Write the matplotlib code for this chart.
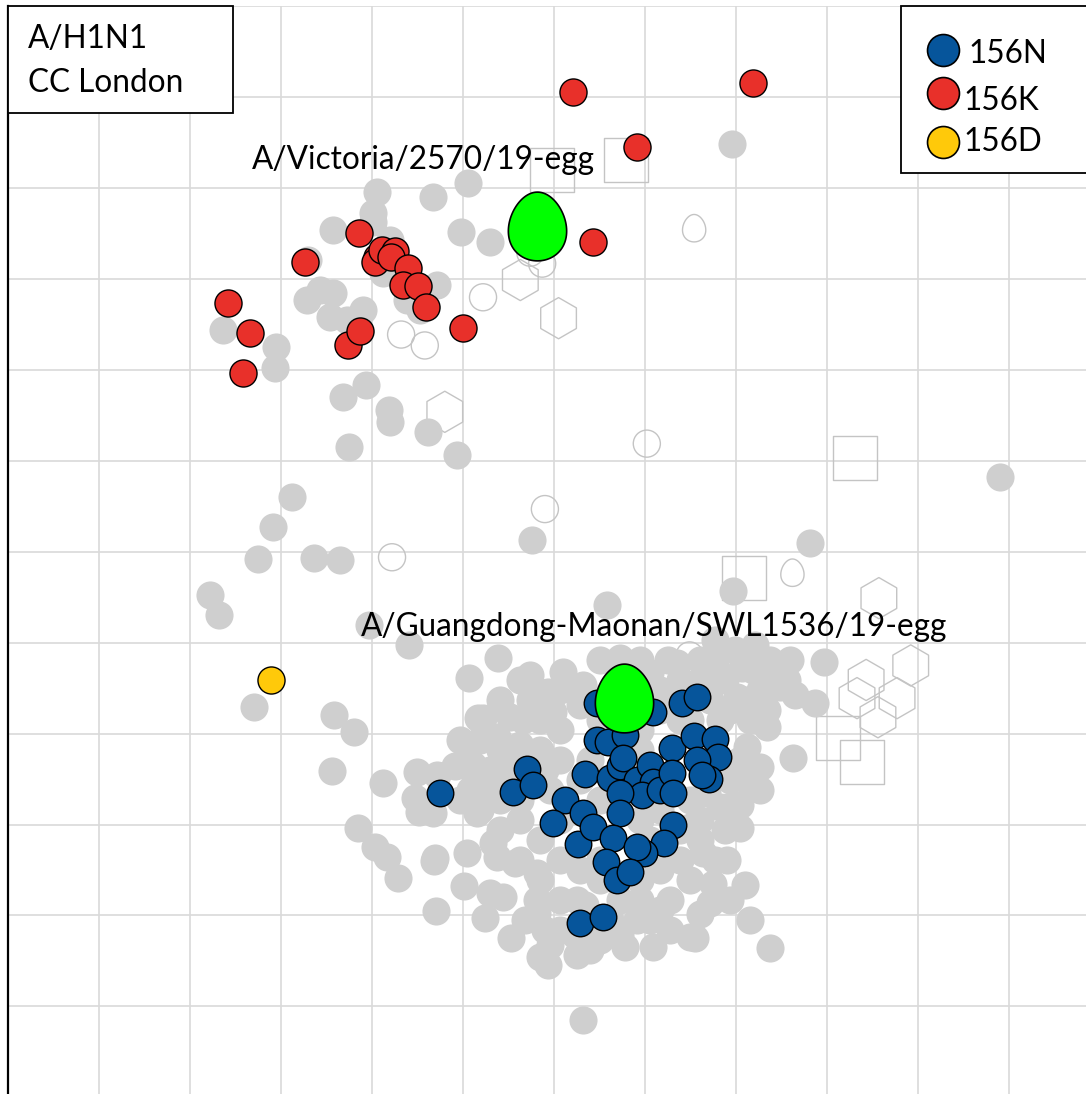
import numpy as np
import matplotlib.pyplot as plt
from matplotlib.path import Path
from matplotlib.patches import Rectangle

# Antigenic map positions in grid units (x to the right, y downwards)
grey_x = [4.05, 4.01, 4.01, 4.67, 5.05, 4.98, 5.30, 3.57, 3.30, 4.12, 4.71, 4.38, 4.53, 3.29, 3.43, 3.57,
          3.54, 3.73, 3.90, 2.36, 2.95, 2.93, 3.68, 3.93, 4.19, 4.20, 4.62, 3.75, 4.93, 7.96, 4.31, 4.20,
          3.12, 2.91, 2.75, 3.36, 3.65, 2.22, 2.32, 3.97, 4.41, 2.70, 3.58, 3.80, 5.07, 5.16, 5.76, 6.58,
          7.97, 8.81, 10.90, 8.97, 8.63, 8.87,
          3.56, 4.12, 4.49, 4.47, 4.52, 4.71, 4.91, 5.11, 5.22, 5.52, 5.66, 5.37, 3.85, 4.03, 4.16, 4.29,
          4.68, 5.04, 5.01, 4.70, 5.15, 5.33, 5.37, 5.57, 5.30, 5.44, 5.24, 5.53, 5.81, 5.85, 5.93, 6.25,
          6.32, 5.81, 6.25, 5.81,
          5.38, 6.10, 5.93, 6.32, 6.73, 7.05, 7.35, 7.77, 8.07, 8.37, 8.56, 5.99, 4.67, 5.00, 5.19, 4.69,
          6.78, 6.91, 7.16, 7.09, 7.55, 7.71, 7.93, 8.15, 8.37, 8.04, 7.90,
          7.25, 8.19, 8.59, 7.77, 8.48, 8.34, 8.01, 8.34, 8.12, 8.26, 8.12, 7.90, 7.75, 7.49, 7.64, 7.49,
          7.82, 7.68,
          5.74, 6.07, 5.85, 5.41, 5.19, 5.63, 6.07, 6.51, 6.95, 7.16, 7.60, 7.93, 8.15, 7.82, 8.04, 7.93,
          7.49, 7.60, 7.16, 6.95, 6.51, 6.29, 5.96, 5.41, 5.63, 5.85, 6.07, 5.85, 6.07, 6.51, 6.73, 6.95,
          7.16, 7.38, 7.49, 7.27, 6.51, 6.07, 5.63, 5.41, 4.97, 5.19, 5.63, 6.73, 7.38, 7.71, 7.49, 6.07,
          6.51, 6.95, 6.29, 6.95, 7.60, 6.07, 6.29, 7.05, 6.62, 6.40, 5.68, 5.90, 8.10,
          7.99, 8.21, 8.43, 8.65, 8.26, 8.10, 7.88, 7.60, 7.38, 7.16, 5.08, 5.30, 5.46, 5.90, 5.85, 5.52,
          5.08, 7.88, 7.77, 8.04, 8.26, 7.82, 6.34, 6.73, 6.95, 7.27, 7.60, 5.96, 6.23, 6.51, 7.05, 7.38,
          6.40, 6.62, 7.05, 5.41, 5.63, 4.97, 5.74]
grey_y = [2.04, 2.27, 2.37, 2.10, 1.94, 2.48, 2.59, 2.46, 2.79, 2.93, 3.06, 3.23, 3.34, 3.23, 3.12, 3.15,
          3.42, 3.45, 3.34, 3.56, 3.75, 3.98, 4.30, 4.17, 4.44, 4.57, 4.68, 4.85, 4.93, 1.51, 2.95, 2.57,
          5.40, 5.73, 6.08, 6.07, 6.09, 6.47, 6.70, 6.81, 7.02, 7.71, 7.80, 7.98, 7.39, 7.83, 5.87, 6.58,
          6.43, 5.90, 5.18, 7.21, 8.27, 7.66,
          8.41, 8.54, 8.42, 8.71, 8.86, 8.45, 8.36, 8.34, 7.83, 7.82, 7.85, 8.04, 9.04, 9.25, 9.36, 9.59,
          9.40, 9.31, 9.68, 9.95, 8.87, 9.20, 9.36, 9.42, 9.75, 9.80, 10.03, 10.25, 9.97, 10.46, 10.55, 10.44,
          11.15, 9.83, 9.83, 9.53,
          7.17, 7.32, 7.54, 7.46, 7.17, 7.33, 7.22, 7.22, 7.28, 7.19, 7.41, 7.76, 8.87, 8.35, 8.84, 9.37,
          10.35, 10.05, 9.94, 10.35, 10.25, 9.86, 9.83, 10.05, 10.36, 9.04, 9.39,
          7.19, 7.30, 7.19, 6.97, 7.49, 7.74, 7.60, 7.93, 8.15, 8.37, 8.51, 8.81, 9.65, 10.24, 9.31, 9.03,
          8.81, 8.65,
          7.63, 7.96, 8.18, 8.18, 8.07, 8.13, 8.29, 7.85, 7.96, 7.52, 7.41, 7.74, 7.85, 7.85, 8.29, 8.51,
          8.73, 8.95, 8.84, 8.95, 8.73, 8.51, 8.62, 8.73, 8.95, 9.17, 9.39, 9.61, 9.83, 9.61, 9.83, 9.61,
          9.50, 9.39, 9.61, 9.83, 10.27, 10.16, 9.39, 9.06, 8.73, 8.62, 8.73, 7.41, 7.85, 7.63, 7.85, 7.52,
          7.19, 7.19, 7.69, 8.18, 9.17, 8.95, 9.50, 10.05, 10.05, 10.38, 10.05, 10.16, 9.67,
          7.08, 7.03, 7.36, 7.58, 7.52, 7.63, 7.41, 7.19, 7.41, 7.74, 8.13, 8.40, 8.51, 8.40, 7.85, 8.29,
          8.62, 9.06, 9.39, 8.79, 8.62, 8.40, 9.89, 10.22, 9.83, 10.16, 9.99, 10.33, 10.22, 9.39, 9.17, 9.06,
          8.29, 7.63, 7.63, 7.63, 7.41, 8.07, 7.35]

# 156N test viruses
n156_x = [6.47, 7.09, 7.41, 7.57, 6.47, 6.59, 6.78, 7.30, 7.54, 7.77, 7.80, 7.57, 7.70, 7.63, 4.75, 5.70,
          5.55, 5.77, 6.34, 6.62, 6.73, 6.76, 6.91, 7.05, 7.09, 6.97, 7.16, 7.30, 7.31, 6.73, 6.73, 6.12,
          5.99, 6.32, 6.26, 6.43, 6.65, 7.31, 7.21, 6.99, 6.91, 6.57, 6.69, 6.84, 6.29, 6.54]
n156_y = [7.66, 7.76, 7.66, 7.60, 8.07, 8.09, 8.01, 8.16, 8.03, 8.06, 8.26, 8.29, 8.50, 8.46, 8.65, 8.39,
          8.64, 8.56, 8.44, 8.49, 8.36, 8.27, 8.51, 8.34, 8.53, 8.67, 8.62, 8.43, 8.65, 8.65, 8.87, 8.73,
          8.98, 8.87, 9.21, 9.03, 9.15, 9.00, 9.20, 9.31, 9.25, 9.41, 9.61, 9.52, 10.08, 10.02]

# 156K test viruses
k156_x = [6.21, 8.19, 6.91, 6.43, 3.86, 3.26, 4.05, 4.03, 4.11, 4.25, 4.21, 4.40, 4.34, 4.51, 4.59, 5.00,
          2.42, 2.66, 2.58, 3.74, 3.87]
k156_y = [0.94, 0.84, 1.55, 2.59, 2.49, 2.81, 2.76, 2.81, 2.68, 2.69, 2.76, 2.88, 3.06, 3.08, 3.31, 3.54,
          3.26, 3.59, 4.03, 3.72, 3.57]

# 156D test virus
d156_x = [2.89]
d156_y = [7.41]

# reference antigens (egg) and their names
ref_x = [5.81, 6.77]
ref_y = [2.42, 7.61]
ref_names = ['A/Victoria/2570/19-egg', 'A/Guangdong-Maonan/SWL1536/19-egg']
ref_label_x = [2.68, 3.88]
ref_label_y = [1.79, 6.93]

# antisera / other antigens drawn as open shapes
ocirc_x = [5.22, 4.32, 4.58, 5.87, 5.74, 7.02, 5.90, 4.22, 7.49, 7.47]
ocirc_y = [3.20, 3.61, 3.73, 2.83, 2.71, 4.81, 5.53, 6.06, 7.14, 7.41]
oegg_x = [7.54, 8.62]
oegg_y = [2.44, 6.23]
osq_x = [5.98, 6.79, 9.31, 8.09, 9.12, 9.38]
osq_y = [1.80, 1.69, 4.97, 6.29, 8.05, 8.31]
ohex_x = [5.63, 6.05, 4.80, 9.57, 9.43, 9.92, 9.33, 9.77, 9.56, 8.10]
ohex_y = [3.01, 3.43, 4.46, 6.51, 7.41, 7.25, 7.61, 7.61, 7.82, 8.42]

legend_labels = ['156N', '156K', '156D']
title_lines = ['A/H1N1', 'CC London']

grey = '#CFCFCF'
outline = '#C4C4C4'
blue = '#06559B'
red = '#E8302A'
yellow = '#FFC90A'
green = '#00FF00'

FONT = 'Lato'
FS = 22.7

# egg marker
t = np.linspace(0, 2 * np.pi, 120)
egg = Path(np.column_stack([0.42 * np.cos(t) * (1 - 0.14 * np.sin(t)), 0.5 * np.sin(t)]), closed=True)

W, H = 1086, 1094
fig = plt.figure(figsize=(W / 100, H / 100), dpi=100)
ax = fig.add_axes([8 / W, 0, (W - 8) / W, (H - 6.4) / H])
ax.set_xlim(0, (W - 8) / 91.0)
ax.set_ylim((H - 6.4) / 90.9, 0)

ax.set_xticks(np.arange(0, 12))
ax.set_yticks(np.arange(0, 12))
ax.tick_params(length=0, labelleft=False, labelbottom=False)
ax.grid(True, color='#D9D9D9', lw=1.2)
ax.set_axisbelow(True)
for s in ['top', 'right', 'bottom']:
    ax.spines[s].set_visible(False)
ax.spines['left'].set_linewidth(1.6)
ax.spines['left'].set_color('black')

# open shapes first, grey antigens on top of them
ax.scatter(ocirc_x, ocirc_y, s=380, marker='o', facecolor='none', edgecolor=outline, lw=1.0, zorder=2)
ax.scatter(oegg_x, oegg_y, s=390, marker=egg, facecolor='none', edgecolor=outline, lw=1.0, zorder=2)
ax.scatter(osq_x, osq_y, s=1000, marker='s', facecolor='none', edgecolor=outline, lw=1.0, zorder=2)
ax.scatter(ohex_x, ohex_y, s=880, marker='h', facecolor='none', edgecolor=outline, lw=1.0, zorder=2)

ax.scatter(grey_x, grey_y, s=410, marker='o', color=grey, lw=0, zorder=3)

ax.scatter(n156_x, n156_y, s=365, marker='o', facecolor=blue, edgecolor='black', lw=1.0, zorder=4)
ax.scatter(k156_x, k156_y, s=380, marker='o', facecolor=red, edgecolor='black', lw=1.0, zorder=4)
ax.scatter(d156_x, d156_y, s=380, marker='o', facecolor=yellow, edgecolor='black', lw=1.0, zorder=4)

ax.scatter(ref_x, ref_y, s=2450, marker=egg, facecolor=green, edgecolor='black', lw=1.2, zorder=5)
for name, lx, ly in zip(ref_names, ref_label_x, ref_label_y):
    ax.text(lx, ly, name, fontsize=FS, family=FONT, va='baseline', ha='left', zorder=6)

# title box (top left)
fig.patches.append(Rectangle((8 / W, 1 - 113 / H), 225 / W, 107 / H, transform=fig.transFigure,
                             facecolor='white', edgecolor='black', lw=1.3, zorder=10))
for i, line in enumerate(title_lines):
    fig.text(28 / W, 1 - (48 + 44 * i) / H, line, fontsize=FS, family=FONT, va='baseline', zorder=11)

# legend box (top right)
fig.patches.append(Rectangle((901 / W, 1 - 173 / H), 200 / W, 167 / H, transform=fig.transFigure,
                             facecolor='white', edgecolor='black', lw=1.3, zorder=10))
leg_colors = [blue, red, yellow]
leg_marker_y = [50, 93, 142]
leg_text_x = [968, 963, 963]
leg_text_y = [63, 110, 151]
for lab, c, my, tx, ty in zip(legend_labels, leg_colors, leg_marker_y, leg_text_x, leg_text_y):
    fig.add_artist(plt.Line2D([943 / W], [1 - my / H], marker='o', markersize=23, markerfacecolor=c,
                              markeredgecolor='black', markeredgewidth=1.2, transform=fig.transFigure,
                              zorder=12))
    fig.text(tx / W, 1 - ty / H, lab, fontsize=FS, family=FONT, va='baseline', zorder=12)

fig.savefig('out.png', dpi=100)
